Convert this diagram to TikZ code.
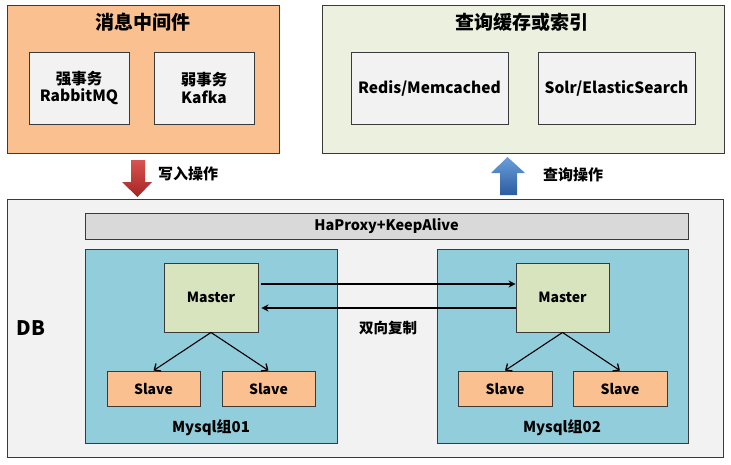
\documentclass[tikz,border=0pt]{standalone}
\usepackage{fontspec}
\setmainfont{Noto Sans CJK SC}
\usetikzlibrary{shadows,arrows.meta}
\definecolor{peach}{HTML}{FAC090}
\definecolor{lgray}{HTML}{F2F2F2}
\definecolor{lgreen}{HTML}{EBF1DE}
\definecolor{mgray}{HTML}{D9D9D9}
\definecolor{lblue}{HTML}{92CDDC}
\definecolor{mgreen}{HTML}{D7E4BD}
\definecolor{edge}{HTML}{3A3A3A}
\definecolor{redtop}{HTML}{D9534F}
\definecolor{redbot}{HTML}{A42424}
\definecolor{bluetop}{HTML}{6A9FDC}
\definecolor{bluebot}{HTML}{2C5C9E}
\tikzset{
  box/.style={draw=edge, line width=0.9pt, inner sep=0pt, align=center,
    font=\bfseries\fontsize{14}{16}\selectfont,
    drop shadow={shadow xshift=1.2pt, shadow yshift=-1.2pt, opacity=0.35, fill=black!60}},
  bigtext/.style={font=\bfseries\fontsize{15.5}{17.5}\selectfont},
  lbl/.style={font=\bfseries\fontsize{15}{17}\selectfont, inner sep=0pt},
  title/.style={font=\bfseries\fontsize{19}{21}\selectfont, inner sep=0pt},
  rep/.style={line width=1.6pt, -{Stealth[length=7pt,width=7pt]}},
  sl/.style={line width=1.1pt, -{Straight Barb[length=5pt,width=9pt,line width=1.3pt]}}
}
\begin{document}
\begin{tikzpicture}[x=1pt,y=-1pt]
\useasboundingbox (0,0) rectangle (731,464);
% top left
\node[box, fill=peach, minimum width=272, minimum height=148] (mq) at (143,79) {};
\node[title] (mqt) at (143,22) {消息中间件};
\node[box, bigtext, fill=lgray, minimum width=100, minimum height=72] (rabbit) at (79,88) {强事务\\RabbitMQ};
\node[box, bigtext, fill=lgray, minimum width=100, minimum height=72] (kafka) at (204,88) {弱事务\\Kafka};
% top right
\node[box, fill=lgreen, minimum width=402, minimum height=148] (cache) at (523,79) {};
\node[title] (cachet) at (522,22) {查询缓存或索引};
\node[box, bigtext, fill=lgray, minimum width=157, minimum height=72] (redis) at (429.5,88) {Redis/Memcached};
\node[box, bigtext, fill=lgray, minimum width=157, minimum height=72] (solr) at (616.5,88) {Solr/ElasticSearch};
% block arrows
\path[top color=redtop, bottom color=redbot, draw=none]
  (131,160) -- (145,160) -- (145,182) -- (152,182) -- (137.5,197) -- (122,182) -- (131,182) -- cycle;
\node[lbl] (wr) at (188,174) {写入操作};
\path[top color=bluetop, bottom color=bluebot, draw=none]
  (507.5,157) -- (525,173) -- (517,173) -- (517,195) -- (500,195) -- (500,173) -- (491,173) -- cycle;
\node[lbl] (rd) at (573,175) {查询操作};
% DB
\node[box, fill=lgray, minimum width=716, minimum height=258] (db) at (365,328) {};
\node[title, font=\bfseries\fontsize{20}{22}\selectfont] (dbt) at (31,328) {DB};
\node[box, fill=mgray, minimum width=603, minimum height=26, font=\bfseries\fontsize{14.5}{16}\selectfont] (ha) at (386.5,226) {HaProxy+KeepAlive};
\node[box, fill=lblue, minimum width=252, minimum height=194] (g1) at (211,346) {};
\node[box, fill=lblue, minimum width=251, minimum height=194] (g2) at (562.5,346) {};
\node[box, fill=mgreen, minimum width=94, minimum height=69] (m1) at (211,297.5) {Master};
\node[box, fill=mgreen, minimum width=93, minimum height=69] (m2) at (562.5,297.5) {Master};
\node[box, fill=peach, minimum width=93, minimum height=35] (s11) at (153.5,388.5) {Slave};
\node[box, fill=peach, minimum width=93, minimum height=35] (s12) at (268.5,388.5) {Slave};
\node[box, fill=peach, minimum width=94, minimum height=35] (s21) at (505,388.5) {Slave};
\node[box, fill=peach, minimum width=94, minimum height=35] (s22) at (620,388.5) {Slave};
\node[lbl] (g1t) at (211,428) {Mysql组01};
\node[lbl] (g2t) at (562,428) {Mysql组02};
\node[lbl, font=\bfseries\fontsize{14.5}{16}\selectfont] (bi) at (388,328) {双向复制};
% connectors
\draw[rep, shorten <=3pt] ([yshift=13.5pt]m1.east) -- ([yshift=13.5pt]m2.west);
\draw[rep, shorten >=3pt] ([yshift=-10.5pt]m2.west) -- ([yshift=-10.5pt]m1.east);
\draw[sl] (m1.south) -- (s11.north);
\draw[sl] (m1.south) -- (s12.north);
\draw[sl] (m2.south) -- (s21.north);
\draw[sl] (m2.south) -- (s22.north);
\end{tikzpicture}
\end{document}
